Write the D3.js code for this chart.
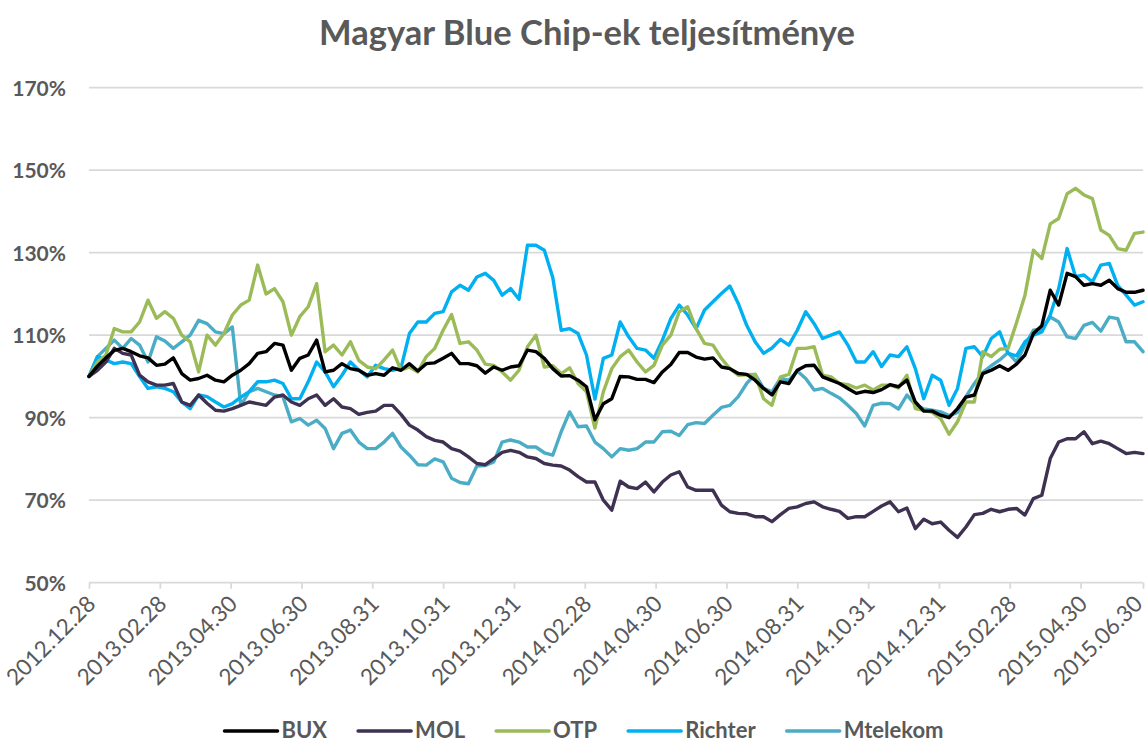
<!DOCTYPE html>
<html>
<head>
<meta charset="utf-8">
<script src="https://cdn.jsdelivr.net/npm/d3@7/dist/d3.min.js"></script>
<style>
  html, body { margin: 0; padding: 0; background: #ffffff; }
  svg { display: block; }
</style>
</head>
<body>
<svg id="chart" width="1147" height="744"></svg>
<script>
// ---------- DATA ----------
const chartTitle = "Magyar Blue Chip-ek teljesítménye";
const yTicks = [50, 70, 90, 110, 130, 150, 170];
const tickLabels = ["2012.12.28","2013.02.28","2013.04.30","2013.06.30","2013.08.31","2013.10.31","2013.12.31",
  "2014.02.28","2014.04.30","2014.06.30","2014.08.31","2014.10.31","2014.12.31","2015.02.28","2015.04.30","2015.06.30"];
// trading-day position of each label on the category axis
const tickDays = [0,42,84,126,168,210,252,294,336,378,420,462,504,546,588,625];
// series sampled every 5 trading days (index 0 .. 625)
const sampleStep = 5;
const seriesNames = ["BUX","MOL","OTP","Richter","Mtelekom"];
const bux = [100,102.5,104.5,106.3,106.8,106,105,104.5,102.7,103,104.5,100.7,99.1,99.5,100.3,99.1,98.7,
  100.3,101.5,103.1,105.6,106.0,108.0,107.6,101.5,104.4,105.2,108.8,101.1,101.5,103.1,101.9,
  101.5,100.3,100.7,100.3,102.1,101.5,103.1,101.3,103.1,103.3,104.4,105.6,103.1,103.1,102.6,100.8,
  102.3,101.5,102.3,102.6,106.4,106.0,104.4,101.9,100.1,100.2,99.1,97.5,89.5,93.4,94.6,100.0,
  99.9,99.3,99.3,98.5,101.1,102.9,105.8,105.8,104.7,104.2,104.5,102.3,101.9,100.7,100.5,
  99.1,97.1,95.5,98.7,98.3,101.5,102.6,102.7,99.9,99.1,98.3,97.1,95.9,96.4,96.1,96.8,
  98.0,97.5,99.1,93.8,91.6,91.6,90.6,90.0,92.2,95.0,95.5,100.7,101.5,102.6,101.5,103.0,
  105.2,110.4,112.3,120.9,117.3,125.0,124.2,122.1,122.5,122.1,123.3,121.3,120.4,120.4,120.9];
const mol = [100,101.5,103.5,106.8,105.6,105.2,100.3,98.7,97.9,97.9,98.3,93.8,93.0,95.5,93.5,91.8,91.6,
  92.2,93.0,93.8,93.4,93.0,95.0,95.5,93.8,93.0,94.6,95.5,93.0,94.6,92.6,92.2,
  90.8,91.3,91.6,93.0,93.0,90.8,88.2,87.0,85.4,84.5,84.1,82.5,81.9,80.5,78.9,78.6,
  80.1,81.6,82.1,81.6,80.5,80.1,78.9,78.5,78.3,77.3,75.7,74.4,74.4,70.0,67.6,74.6,
  73.2,72.8,74.4,72.0,74.4,76.1,76.9,73.2,72.4,72.4,72.4,68.8,67.2,66.8,66.7,
  66.0,66.0,64.8,66.5,68.0,68.4,69.2,69.6,68.4,67.8,67.3,65.6,66.0,66.0,67.3,68.6,
  69.6,67.2,68.1,63.1,65.4,64.3,64.7,62.7,61.0,63.5,66.5,66.8,67.8,67.2,67.8,68.0,
  66.4,70.4,71.2,80.1,84.1,84.9,84.9,86.6,83.7,84.3,83.7,82.5,81.3,81.6,81.3];
const otp = [100,103.5,105.2,111.6,110.8,110.8,113.2,118.5,114.1,115.7,114.1,110,108.4,101.1,110,107.6,110.4,
  114.9,117.3,118.5,127,120,121.3,118.1,110.0,114.5,116.9,122.5,106,107.6,105.2,108.4,
  103.9,102.3,101.9,104.0,106.4,101.5,102.3,101.1,104.8,106.8,111.2,115,108.0,108.4,106.4,103,
  102.7,101.1,99.1,101.5,107.2,110,102.3,102.6,100.7,102.1,98.3,96.3,87.5,96.3,101.9,104.8,
  106.4,103.5,101.1,102.7,107.6,110.0,115.7,116.9,111.6,108.0,107.6,104.4,101.9,100.3,100.4,
  100.5,94.6,93.0,99.9,100.5,106.8,106.8,107.2,100.3,99.9,98.3,98.0,97.2,97.9,96.7,97.9,
  97.9,97.2,100.3,92.2,91.8,91.3,89.8,86.0,89.0,93.8,93.8,106.0,104.8,106.6,106.8,113,
  119.7,130.6,128.6,137,138.3,144.3,145.6,144.0,143.1,135.5,134.2,131,130.6,134.7,135.0];
const richter = [100,104.8,104,103.1,103.5,103.1,100,97.1,97.5,97.1,96.3,93.8,92.2,95.5,95.1,93.8,92.6,
  93.4,95.0,96.3,98.7,98.7,99.1,98.3,94.6,94.6,98.7,103.5,101.1,97.5,100.3,103.5,
  101.5,99.9,102.7,101.9,101.5,102,110.4,113.2,113.2,115.3,115.7,120.5,122.1,120.9,124.1,125,
  123.3,119.7,121.3,118.7,131.8,131.8,130.6,124,111.2,111.6,110.4,105.2,94.5,104.4,105.2,113.2,
  109.6,106.8,106.4,104.4,108.8,114.0,117.3,114.9,111.6,116.1,118.1,120.1,121.9,117.7,112.4,
  108.4,105.6,106.9,109.0,107.6,111.2,115.7,112.8,109.2,110.0,110.8,107.6,103.5,103.5,106.0,102.4,
  105.2,104.8,107.2,101.9,94.6,100.3,99.1,93.0,97.1,106.8,107.2,104.8,109.2,110.8,105.6,105,
  108.4,110.0,110.8,114.9,121.3,131,124.2,124.6,122.9,127.0,127.4,122.1,119.7,117.3,118.1];
const mtelekom = [100,104.8,106.8,108.8,106.8,109.2,107.6,103.5,109.6,108.6,106.8,108.4,110,113.6,112.8,110.8,110.4,
  112.0,93.0,96.3,97.1,96.3,95.5,95.1,89.0,89.8,88.2,89.4,87.4,82.5,86.2,87.0,
  84.1,82.5,82.5,84.1,86.2,82.9,80.9,78.6,78.5,80.0,79.3,75.3,74.3,74.0,78.3,78.4,
  79.3,84.1,84.6,84.1,82.9,82.9,81.5,80.9,86.6,91.4,87.8,88.0,84.1,82.5,80.5,82.5,
  82.1,82.5,84.1,84.1,86.6,86.7,85.7,88.3,88.8,88.6,90.6,92.5,93.0,95.1,98.3,
  100.5,97.1,96.3,99.5,99.1,101.3,99.5,96.7,97.1,95.9,94.8,93.0,91.0,88,93.0,93.5,
  93.4,92.1,95.5,93.2,92.1,91.8,91.4,90.5,91.3,95.1,98.3,101.0,102.6,104.0,105.8,103.5,
  107.6,111.2,111.5,114.4,113.2,109.6,109.2,112.4,113.1,111.0,114.4,114.0,108.4,108.4,106.0];
const seriesColors = ["#000000","#3f3151","#9bbb59","#00b0f0","#4bacc6"];

// ---------- CHART ----------
const svg = d3.select("#chart");
const plot = {left: 89, right: 1143, top: 87.7, bottom: 582.7};
const textColor = "#595959";
const font = "Lato, 'Open Sans', sans-serif";

const x = d3.scaleLinear().domain([0, 625]).range([plot.left, plot.right]);
const y = d3.scaleLinear().domain([50, 170]).range([plot.bottom, plot.top]);

// title
svg.append("text")
  .attr("x", 587).attr("y", 45)
  .attr("text-anchor", "middle")
  .style("font-family", font).style("font-weight", "bold")
  .style("font-size", "34.5px").style("fill", textColor)
  .text(chartTitle);

// gridlines
svg.append("g").selectAll("line")
  .data(yTicks.filter(d => d !== 50))
  .join("line")
  .attr("x1", plot.left).attr("x2", plot.right)
  .attr("y1", d => y(d)).attr("y2", d => y(d))
  .attr("stroke", "#d9d9d9").attr("stroke-width", 1.8);

// y axis labels
const yAxis = d3.axisLeft(y).tickValues(yTicks).tickSize(0).tickPadding(0)
  .tickFormat(d => d + "%");
const gy = svg.append("g").attr("transform", `translate(66,0)`).call(yAxis);
gy.select(".domain").remove();
gy.selectAll("text")
  .style("font-family", font).style("font-weight", "bold")
  .style("font-size", "21px").style("fill", textColor)
  .attr("dy", "0.36em");

// x axis
const xAxis = d3.axisBottom(x).tickValues(tickDays).tickSize(6).tickPadding(0)
  .tickFormat((d, i) => tickLabels[i]);
const gx = svg.append("g").attr("transform", `translate(0,${plot.bottom})`).call(xAxis);
gx.select(".domain").attr("stroke", "#d9d9d9").attr("stroke-width", 1.8)
  .attr("d", `M${plot.left},0H${plot.right}`);
gx.selectAll(".tick line").attr("stroke", "#d9d9d9").attr("stroke-width", 1.8);
gx.selectAll(".tick text")
  .style("font-family", font).style("font-weight", "normal")
  .style("font-size", "22.5px").style("fill", textColor)
  .attr("text-anchor", "end")
  .attr("transform", (d, i) => i === tickDays.length - 1
      ? "translate(-5,17) rotate(-45)"
      : "translate(2,17) rotate(-45)")
  .attr("dy", "0.35em").attr("y", 0);

// lines
const allSeries = [bux, mol, otp, richter, mtelekom];
const line = d3.line()
  .x((d, i) => x(i * sampleStep))
  .y(d => y(d));
const order = [4, 3, 2, 1, 0]; // draw BUX on top
svg.append("g").selectAll("path")
  .data(order)
  .join("path")
  .attr("d", k => line(allSeries[k]))
  .attr("fill", "none")
  .attr("stroke", k => seriesColors[k])
  .attr("stroke-width", 3.4)
  .attr("stroke-linejoin", "round")
  .attr("stroke-linecap", "round");

// legend
const legend = svg.append("g");
const lgY = 731, lineLen = 53, gapText = 4, gapItem = 31;
let lx = 0;
seriesNames.forEach((name, i) => {
  const g = legend.append("g");
  g.append("line").attr("x1", lx).attr("x2", lx + lineLen)
    .attr("y1", lgY).attr("y2", lgY)
    .attr("stroke", seriesColors[i]).attr("stroke-width", 3.5).attr("stroke-linecap", "round");
  const t = g.append("text").attr("x", lx + lineLen + gapText).attr("y", 738)
    .style("font-family", font).style("font-weight", "bold")
    .style("font-size", "22px").style("fill", textColor).text(name);
  const w = t.node().getComputedTextLength();
  lx += lineLen + gapText + w + gapItem;
});
const totalW = lx - gapItem;
legend.attr("transform", `translate(${584 - totalW / 2},0)`);
</script>
</body>
</html>
